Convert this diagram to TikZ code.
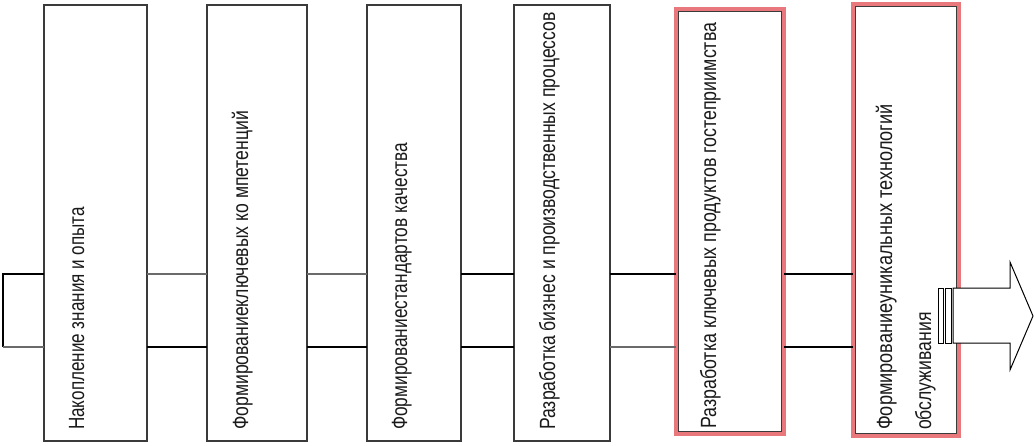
\documentclass[tikz,border=0pt]{standalone}
\usepackage{fontspec}
\setmainfont{Liberation Sans}
\usetikzlibrary{calc}
\definecolor{boxgray}{HTML}{3A3A3A}
\definecolor{redline}{HTML}{E8787C}
\definecolor{linegray}{HTML}{6A6A6A}
\definecolor{txt}{HTML}{1A1A1A}
\newcommand{\cond}[2][0.8]{\scalebox{#1}[1]{#2}}
\tikzset{
  box/.style={draw=boxgray, line width=1.3pt, fill=white, rectangle, inner sep=0pt, outer sep=0pt},
  redbox/.style={draw=redline, line width=3.2pt, fill=white, rectangle, inner sep=0pt, outer sep=0pt},
  lbl/.style={rotate=90, anchor=base west, inner sep=0pt, text=txt, font=\fontsize{22}{26}\selectfont},
  conn/.style={draw=black, line width=1.1pt},
  conngray/.style={draw=linegray, line width=1.5pt},
  arrowshape/.style={draw=black, line width=1pt, fill=white}
}
\begin{document}
\begin{tikzpicture}[x=1pt,y=-1pt]
\useasboundingbox (0,0) rectangle (1034,445);
% boxes
\node[box, minimum width=103pt, minimum height=436pt] (b1) at (95.5,223) {};
\node[box, minimum width=100pt, minimum height=436pt] (b2) at (257,223) {};
\node[box, minimum width=94pt, minimum height=436pt] (b3) at (414,223) {};
\node[box, minimum width=96pt, minimum height=436pt] (b4) at (562,223) {};
\node[redbox, minimum width=108pt, minimum height=425pt] (b5) at (730,221.5) {};
\node[redbox, minimum width=106pt, minimum height=432pt] (b6) at (906,220) {};
\draw[boxgray, line width=1.1pt] ($(b5.north west)+(2.3,2.3)$) rectangle ($(b5.south east)+(-2.3,-2.3)$);
\draw[boxgray, line width=1.1pt] ($(b6.north west)+(2.3,2.3)$) rectangle ($(b6.south east)+(-2.3,-2.3)$);
% levels of the connectors
\coordinate (yA) at (0,274);
\coordinate (yB) at (0,347);
% loop at the left
\draw[conn] (b1.west |- yA) -- ++(-41,0) coordinate (lc) -- (lc |- yB);
\draw[conngray] (lc |- yB) -- (b1.west |- yB);
% connectors
\draw[conngray] (b1.east |- yA) -- (b2.west |- yA);
\draw[conn] (b1.east |- yB) -- (b2.west |- yB);
\draw[conngray] (b2.east |- yA) -- (b3.west |- yA);
\draw[conn] (b2.east |- yB) -- (b3.west |- yB);
\draw[conn] (b3.east |- yA) -- (b4.west |- yA);
\draw[conn] (b3.east |- yB) -- (b4.west |- yB);
\draw[conn] (b4.east |- yA) -- (b5.west |- yA);
\draw[conngray] (b4.east |- yB) -- (b5.west |- yB);
\draw[conn] (b5.east |- yA) -- (b6.west |- yA);
\draw[conn] (b5.east |- yB) -- (b6.west |- yB);
% labels
\node[lbl] (t1) at (84,430) {\cond[0.775]{Накопление знания и опыта}};
\node[lbl] (t2) at (248,430) {\cond{Формированиеключевых ко мпетенций}};
\node[lbl] (t3) at (407,430) {\cond[0.785]{Формированиестандартов качества}};
\node[lbl] (t4) at (555,430) {\cond{Разработка бизнес и производственных процессов}};
\node[lbl] (t5) at (716,429) {\cond[0.81]{Разработка ключевых продуктов гостеприимства}};
\node[lbl] (t6a) at (892,430) {\cond[0.825]{Формированиеуникальных технологий}};
\node[lbl] (t6b) at (931,430) {\cond{обслуживания}};
% striped block arrow
\draw[arrowshape] (953,288) -- (1010,288) -- (1010,262) -- (1033,316) -- (1010,370) -- (1010,343) -- (953,343) -- cycle;
\draw[arrowshape] (945,288) rectangle (951,343);
\draw[arrowshape] (938,288) rectangle (943,343);
\end{tikzpicture}
\end{document}
